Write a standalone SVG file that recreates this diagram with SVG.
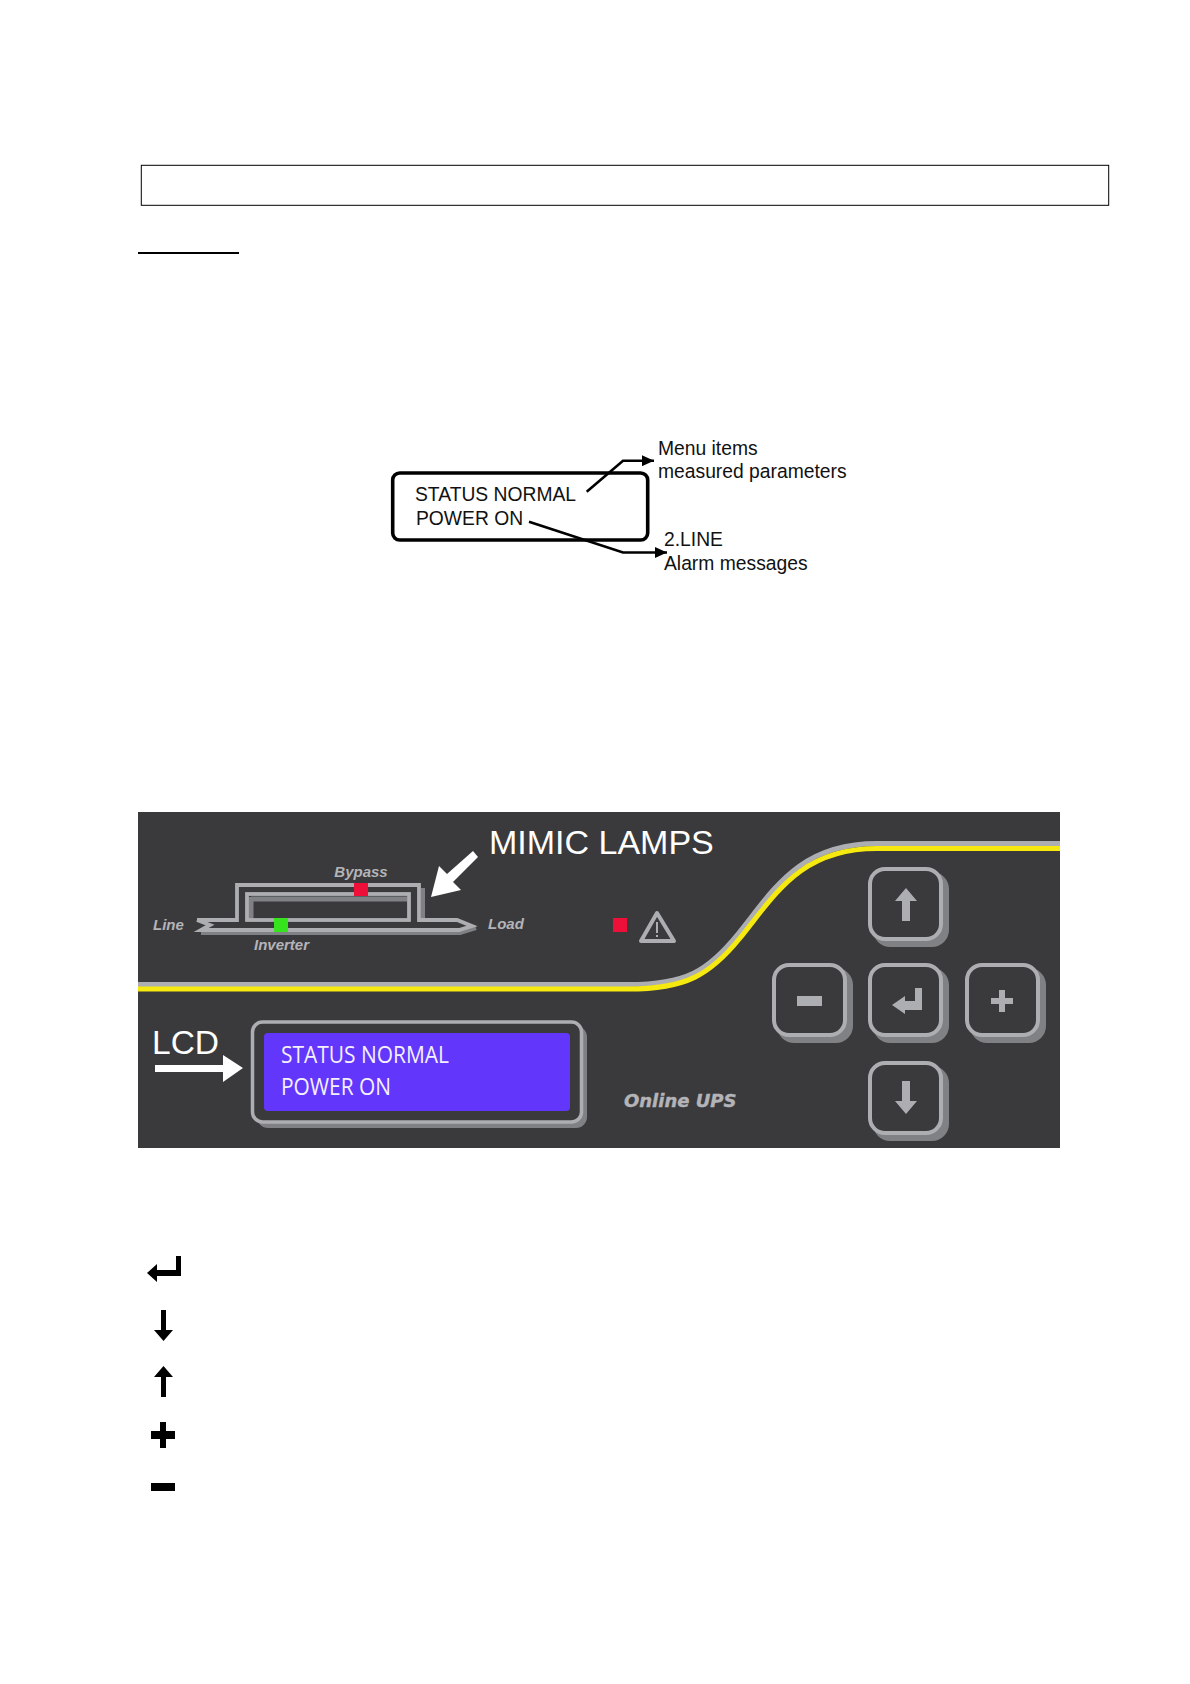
<svg xmlns="http://www.w3.org/2000/svg" width="1190" height="1684" viewBox="0 0 1190 1684">
<style>
.s{font-family:"Liberation Sans",Arial,sans-serif}
.lb{font-size:19.300px;fill:#111}
.mim{font-family:"Liberation Sans",Arial,sans-serif;font-size:15px;font-style:italic;font-weight:bold;fill:#b4b4b8}
.w{fill:#fff}
.btn{fill:none;stroke:#acaeb2;stroke-width:4}
.sh{fill:#808184}
.face{fill:#3a3a3d}
.ic{fill:#acaeb2}
.k{fill:#000}
.lcd{font-family:"Open Sans","Noto Sans",sans-serif;font-size:23px;fill:#f4f0ff}
.ln{fill:none;stroke:#000;stroke-width:2.6}
</style>
<defs>
<marker id="ah" markerUnits="userSpaceOnUse" markerWidth="13" markerHeight="11" refX="12" refY="5.500" orient="auto"><path d="M0 0L12 5.500L0 11z" fill="#000"/></marker>
<g id="b"><rect x="5" y="5" width="76" height="75" rx="17" class="sh"/><rect x="2" y="2" width="71" height="70" rx="15" class="face"/><rect x="2" y="2" width="71" height="70" rx="15" class="btn"/></g>
<path id="up" d="M0 0L11 13H4V33H-4V13H-11z"/>
<path id="down" d="M0 0L-11 -13H-4V-33H4V-13H11z"/>
</defs>
<rect width="1190" height="1684" fill="#fff"/>
<g id="title-box"><rect x="141.3" y="165.3" width="967.4" height="40" fill="none" stroke="#000" stroke-width="1"/></g>
<g id="underline"><rect x="138" y="252" width="101" height="2" fill="#000"/></g>

<g id="lcd-diagram">
<rect x="392.7" y="473" width="255" height="67" rx="7" fill="none" stroke="#000" stroke-width="3.6"/>
<text class="s lb" x="415" y="500.500">STATUS NORMAL</text>
<text class="s lb" x="416" y="525">POWER ON</text>
<text class="s lb" x="658" y="455">Menu items</text>
<text class="s lb" x="658" y="478">measured parameters</text>
<text class="s lb" x="664" y="546">2.LINE</text>
<text class="s lb" x="664" y="570">Alarm messages</text>
</g>
<g id="connectors">
<path class="ln" d="M586.7 491.7L623 460.7H654" marker-end="url(#ah)"/>
<path class="ln" d="M529 521.7L623 552.500H667" marker-end="url(#ah)"/>
</g>

<g id="panel">
<rect x="138" y="812" width="922" height="336" fill="#3a3a3d"/>
<path d="M138 984.500H628C686 984.500 708 971 738 934C773 891 798 843.500 877 843.500H1060" fill="none" stroke="#acaeb2" stroke-width="5"/>
<path d="M138 989H628C686 989 710 975 740 938C775 895 800 848.500 877 848.500H1060" fill="none" stroke="#f5e90f" stroke-width="5"/>
</g>

<g id="mimic">
<path d="M201 933H460L476 928" fill="none" stroke="#808184" stroke-width="4"/>
<path d="M423 888V921" fill="none" stroke="#808184" stroke-width="4"/>
<path d="M251 897V919M251 899H407" fill="none" stroke="#808184" stroke-width="5"/>
<path d="M197 920H237V885H419V920H457L472 926L459 930H201L210 925L197 920" fill="none" stroke="#acaeb2" stroke-width="3.8"/>
<rect x="247" y="894" width="162" height="26" fill="none" stroke="#acaeb2" stroke-width="3.8"/>
<rect x="354" y="883" width="14" height="13" fill="#ee1038"/>
<rect x="274" y="918" width="14" height="14" fill="#35e41c"/>
<text class="mim" x="361" y="877" text-anchor="middle">Bypass</text>
<text class="mim" x="153" y="930">Line</text>
<text class="mim" x="488" y="929">Load</text>
<text class="mim" x="254" y="950">Inverter</text>
</g>

<g id="alarm">
<rect x="613" y="918" width="14" height="14" fill="#ee1038"/>
<path d="M657 913L674 941H641z" fill="none" stroke="#acaeb2" stroke-width="4" stroke-linejoin="round"/>
<rect x="656" y="922" width="2" height="11" class="ic"/><rect x="656" y="935" width="2" height="2" class="ic"/>
</g>

<g id="mimic-label">
<text class="s w" x="489" y="854" font-size="34">MIMIC LAMPS</text>
<path class="w" d="M431 897L439 866L447 874L473 851L478 857L453 882L461 890z"/>
</g>

<g id="lcd-label">
<text class="s w" x="152" y="1054" font-size="33.500">LCD</text>
<path class="w" d="M155 1065H223V1055L243 1068L223 1082V1072H155z"/>
</g>

<g id="lcd-screen">
<rect x="257" y="1026" width="330" height="102" rx="11" fill="#808184"/>
<rect x="252.500" y="1022" width="329" height="100" rx="10" fill="#3a3a3d" stroke="#acaeb2" stroke-width="3.5"/>
<rect x="264" y="1033" width="306" height="78" rx="4" fill="#6236fb"/>
<text class="lcd" x="281" y="1063" textLength="168" lengthAdjust="spacingAndGlyphs">STATUS NORMAL</text>
<text class="lcd" x="281" y="1095" textLength="110" lengthAdjust="spacingAndGlyphs">POWER ON</text>
</g>

<g id="brand"><text x="624" y="1107" font-family="'DejaVu Sans',sans-serif" font-size="18" font-weight="bold" font-style="italic" fill="#b4b4b8" stroke="#b4b4b8" stroke-width=".4">Online UPS</text></g>

<g id="btn-up"><use href="#b" x="868" y="867"/><use href="#up" x="906" y="888" class="ic"/></g>
<g id="btn-minus"><use href="#b" x="772" y="963"/><rect x="797" y="996" width="25" height="10" class="ic"/></g>
<g id="btn-enter"><use href="#b" x="868" y="963"/><path class="ic" d="M892 1005L905 996V1001H915V988H922V1010H905V1014z"/></g>
<g id="btn-plus"><use href="#b" x="965" y="963"/><path class="ic" d="M999 990H1005V998H1013V1004H1005V1012H999V1004H991V998H999z"/></g>
<g id="btn-down"><use href="#b" x="868" y="1061"/><use href="#down" x="906" y="1114" class="ic"/></g>

<g id="key-enter"><path class="k" d="M147 1273L157 1264V1270H176V1256H181V1276H157V1282z"/></g>
<g id="key-down"><path class="k" d="M163.500 1341L154 1330H161V1310H166V1330H173z"/></g>
<g id="key-up"><path class="k" d="M163.500 1366L154 1377H161V1397H166V1377H173z"/></g>
<g id="key-plus"><path class="k" d="M160 1422H166V1431H175V1439H166V1448H160V1439H151V1431H160z"/></g>
<g id="key-minus"><rect x="151" y="1483" width="24" height="8" class="k"/></g>
</svg>
